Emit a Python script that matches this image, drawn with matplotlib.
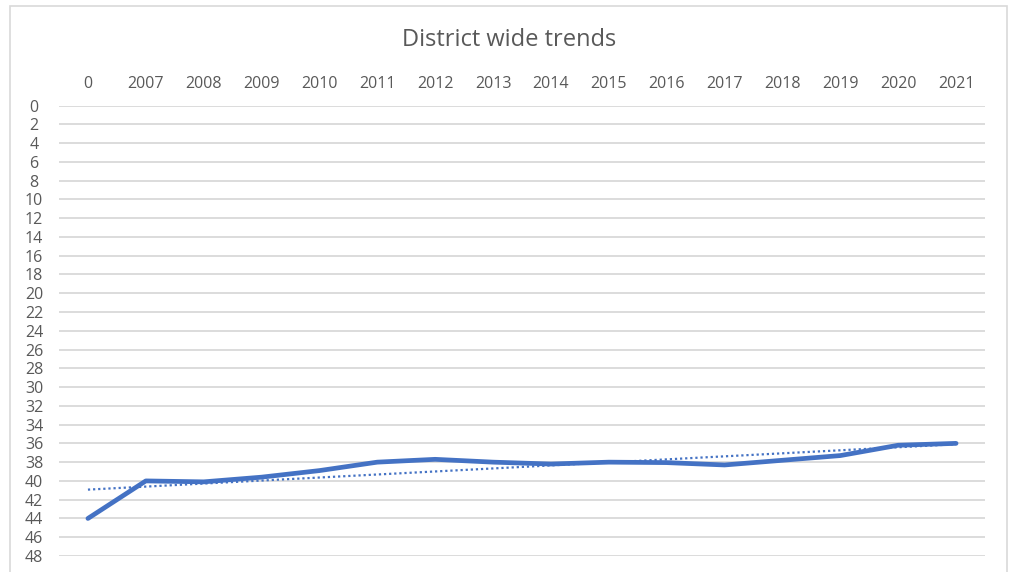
import numpy as np
import matplotlib.pyplot as plt
from matplotlib.patches import Rectangle

plt.rcParams['font.family'] = ['Open Sans', 'DejaVu Sans']

# categories along the top axis and the values
years = ['0', '2007', '2008', '2009', '2010', '2011', '2012', '2013',
         '2014', '2015', '2016', '2017', '2018', '2019', '2020', '2021']
values = [44.0, 40.0, 40.1, 39.6, 38.9, 38.0, 37.7, 38.0,
          38.2, 38.0, 38.05, 38.3, 37.8, 37.3, 36.2, 36.0]
yticks = list(range(0, 50, 2))

fig = plt.figure(figsize=(10.14, 5.72), dpi=100)
ax = fig.add_axes([59 / 1014, 1 - 556 / 572, (985 - 59) / 1014, (556 - 105.5) / 572])

x = np.arange(len(years))
ax.plot(x, values, color='#4472C4', lw=3.4, solid_joinstyle='round',
        solid_capstyle='round', zorder=3)

# linear trendline, like the Excel one
k, b = np.polyfit(x, values, 1)
ax.plot(x, k * x + b, color='#4472C4', lw=1.6, ls=(0, (1, 1.3)), zorder=2)

ax.set_xlim(-0.5, len(years) - 0.5)
ax.set_ylim(48, 0)
ax.set_yticks(yticks)
ax.set_yticklabels([str(t) for t in yticks])
ax.set_xticks(x)
ax.set_xticklabels(years)
ax.xaxis.tick_top()
ax.tick_params(axis='both', length=0, labelsize=11.5, labelcolor='#595959')
ax.tick_params(axis='x', pad=10)
ax.tick_params(axis='y', pad=18)
for lab in ax.get_yticklabels():
    lab.set_horizontalalignment('center')
ax.grid(axis='y', color='#d9d9d9', lw=1.3)
ax.set_axisbelow(True)
for s in ax.spines.values():
    s.set_visible(False)

fig.text(509 / 1014, 1 - 40 / 572, 'District wide trends', ha='center', va='center',
         fontsize=17, color='#595959')

# chart border
fig.patches.append(Rectangle((10 / 1014, -0.05), (1007 - 10) / 1014, 1.05 - 6 / 572,
                             transform=fig.transFigure, fill=False,
                             edgecolor='#d9d9d9', lw=1.2))

fig.savefig('out.png', dpi=100)
